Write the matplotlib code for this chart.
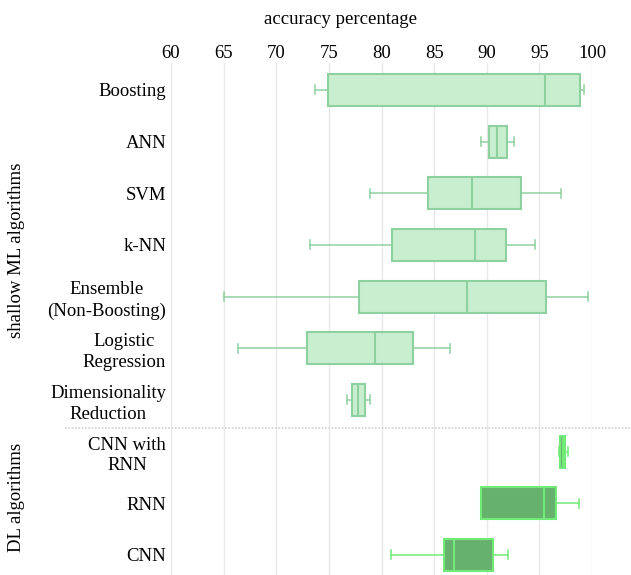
import matplotlib.pyplot as plt
from matplotlib.lines import Line2D

# algorithm names (top to bottom)
labels = ['Boosting', 'ANN', 'SVM', 'k-NN', 'Ensemble\n(Non-Boosting)',
          'Logistic\nRegression', 'Dimensionality\nReduction',
          'CNN with\nRNN', 'RNN', 'CNN']
groups = ['shallow', 'shallow', 'shallow', 'shallow', 'shallow',
          'shallow', 'shallow', 'DL', 'DL', 'DL']

# box statistics (accuracy %)
whislo = [73.7, 89.5, 78.9, 73.2, 65.0, 66.4, 76.7, 96.9, 89.5, 80.9]
q1     = [74.9, 90.2, 84.4, 81.0, 77.9, 72.9, 77.2, 97.0, 89.5, 85.9]
med    = [95.5, 91.0, 88.6, 88.9, 88.1, 79.4, 77.8, 97.2, 95.4, 86.9]
q3     = [98.9, 91.9, 93.3, 91.8, 95.6, 83.0, 78.4, 97.4, 96.6, 90.6]
whishi = [99.2, 92.6, 97.1, 94.6, 99.6, 86.5, 78.9, 97.7, 98.8, 92.0]

xticks = [60, 65, 70, 75, 80, 85, 90, 95, 100]

plt.rcParams['font.family'] = ['Liberation Serif', 'DejaVu Serif']

W, H = 631, 575
fig = plt.figure(figsize=(W / 100, H / 100), dpi=100)
ax = fig.add_axes([171 / W, 0, (592 - 171) / W, (575 - 63) / H])

styles = {
    'shallow': dict(fill='#c9eecf', edge='#8ed1a0'),
    'DL': dict(fill='#67b16e', edge='#72ea78'),
}

for i in range(len(labels)):
    st = styles[groups[i]]
    stats = [dict(whislo=whislo[i], q1=q1[i], med=med[i], q3=q3[i],
                  whishi=whishi[i], fliers=[])]
    ax.bxp(stats, positions=[i], widths=0.62, vert=False, patch_artist=True,
           capwidths=0.17,
           boxprops=dict(facecolor=st['fill'], edgecolor=st['edge'], linewidth=1.5),
           medianprops=dict(color=st['edge'], linewidth=1.5),
           whiskerprops=dict(color=st['edge'], linewidth=1.1),
           capprops=dict(color=st['edge'], linewidth=1.1))

ax.set_xlim(60, 100)
ax.set_ylim(9.39, -0.52)
ax.set_xticks(xticks)
ax.set_yticks(range(len(labels)))
ax.set_yticklabels(labels, linespacing=1.3, multialignment='center')
ax.xaxis.tick_top()
ax.tick_params(axis='both', length=0, labelsize=13.5)
ax.tick_params(axis='x', pad=1)
ax.tick_params(axis='y', pad=3.5)
ax.grid(axis='x', color='#e8e8e8', linewidth=1)
ax.set_axisbelow(True)
for s in ax.spines.values():
    s.set_visible(False)

# separator between shallow ML and DL
fig.add_artist(Line2D([65 / W, 630 / W], [1 - 428 / H, 1 - 428 / H],
                      color='#d0d0d0', linestyle=(0, (1, 1)), linewidth=1.2))

fig.text(341 / W, 1 - 20 / H, 'accuracy percentage', ha='center', va='center',
         fontsize=13.5)
fig.text(17 / W, 1 - 250 / H, 'shallow ML algorithms', rotation=90,
         ha='center', va='center', fontsize=13.5)
fig.text(17 / W, 1 - 497 / H, 'DL algorithms', rotation=90,
         ha='center', va='center', fontsize=13.5)

fig.savefig('out.png', dpi=100)
